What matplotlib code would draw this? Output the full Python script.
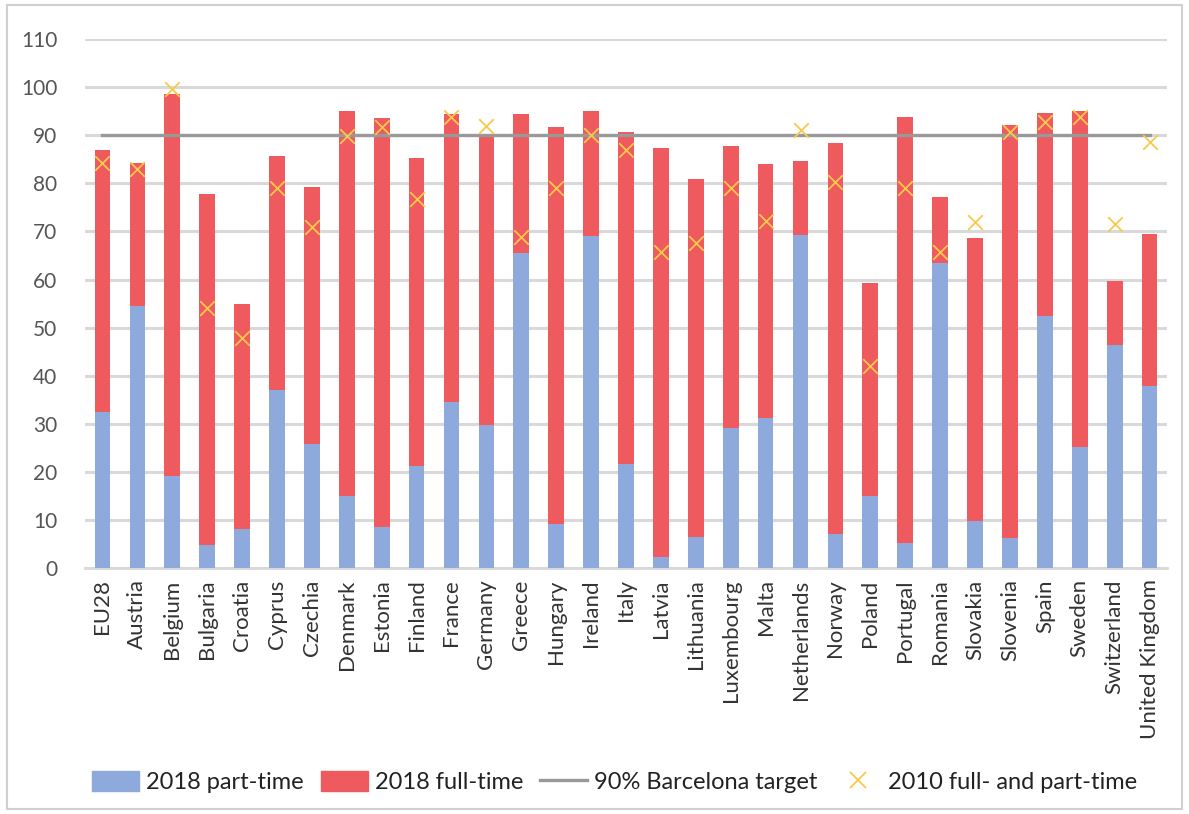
import numpy as np
import matplotlib.pyplot as plt
from matplotlib.patches import Rectangle
from matplotlib.lines import Line2D
from matplotlib.patches import Patch

countries = ['EU28', 'Austria', 'Belgium', 'Bulgaria', 'Croatia', 'Cyprus', 'Czechia',
             'Denmark', 'Estonia', 'Finland', 'France', 'Germany', 'Greece', 'Hungary',
             'Ireland', 'Italy', 'Latvia', 'Lithuania', 'Luxembourg', 'Malta',
             'Netherlands', 'Norway', 'Poland', 'Portugal', 'Romania', 'Slovakia',
             'Slovenia', 'Spain', 'Sweden', 'Switzerland', 'United Kingdom']

# 2018 enrolment, total and part-time share (%)
total_2018 = [86.9, 84.3, 98.5, 77.7, 54.9, 85.7, 79.3, 95.0, 93.5, 85.2, 94.4, 89.6,
              94.4, 91.8, 95.0, 90.7, 87.3, 80.9, 87.8, 84.0, 84.6, 88.3, 59.3, 93.7,
              77.1, 68.7, 92.2, 94.7, 95.0, 59.7, 69.5]
part_2018 = [32.4, 54.6, 19.2, 4.9, 8.1, 37.1, 25.8, 15.1, 8.5, 21.3, 34.5, 29.8,
             65.5, 9.1, 69.0, 21.7, 2.4, 6.4, 29.1, 31.2, 69.2, 7.2, 15.1, 5.3,
             63.4, 9.8, 6.2, 52.4, 25.2, 46.5, 37.9]
total_2010 = [84.2, 82.9, 99.6, 54.0, 47.8, 79.0, 70.9, 89.8, 91.8, 76.8, 93.8, 92.0,
              68.8, 79.0, 90.0, 87.0, 65.8, 67.7, 79.0, 72.2, 91.1, 80.2, 42.1, 79.0,
              65.8, 71.9, 90.6, 92.7, 93.8, 71.6, 88.5]
target = 90

full_2018 = np.array(total_2018) - np.array(part_2018)
x = np.arange(len(countries))

plt.rcParams['font.family'] = ['Lato', 'DejaVu Sans']

blue = '#8EA9DB'
red = '#EF5A5E'
yellow = '#F8C94A'

fig = plt.figure(figsize=(11.89, 8.14), dpi=100)
ax = fig.add_axes([0.0715, 0.302, 0.91, 0.65])

ax.bar(x, part_2018, width=0.45, color=blue, zorder=3)
ax.bar(x, full_2018, width=0.45, bottom=part_2018, color=red, zorder=3)
ax.plot(x, [target] * len(x), color='#999999', lw=2.4, zorder=4)
ax.scatter(x, total_2010, marker='x', s=110, color=yellow, linewidths=1.3, zorder=5)

ax.set_xlim(-0.5, len(x) - 0.5)
ax.set_ylim(0, 110)
ax.set_yticks(range(0, 111, 10))
ax.yaxis.grid(True, color='#D9D9D9', lw=2.2, zorder=0)
ax.set_axisbelow(True)
for s in ['top', 'right', 'left']:
    ax.spines[s].set_visible(False)
ax.spines['bottom'].set_color('#D9D9D9')
ax.spines['bottom'].set_linewidth(2.0)
ax.set_xticks(x)
ax.set_xticklabels(countries, rotation=90)
ax.tick_params(axis='both', length=0)
ax.tick_params(axis='x', pad=8, labelsize=16, labelcolor='#333333')
ax.tick_params(axis='y', pad=20, labelsize=15, labelcolor='#555555')

handles = [Patch(color=blue), Patch(color=red),
           Line2D([], [], color='#999999', lw=2.4),
           Line2D([], [], marker='x', color=yellow, ls='none', markersize=11, mew=1.3)]
labels = ['2018 part-time', '2018 full-time', '90% Barcelona target',
          '2010 full- and part-time']
fig.legend(handles, labels, loc='center', bbox_to_anchor=(0.517, 0.039), ncol=4,
           frameon=False, fontsize=17, handlelength=2.0, handleheight=0.9,
           columnspacing=0.7, handletextpad=0.3, labelcolor='#222222')

fig.patches.append(Rectangle((0.006, 0.006), 0.988, 0.988, transform=fig.transFigure,
                             fill=False, edgecolor='#D0D0D0', lw=1.5))

fig.savefig('out.png', dpi=100)
